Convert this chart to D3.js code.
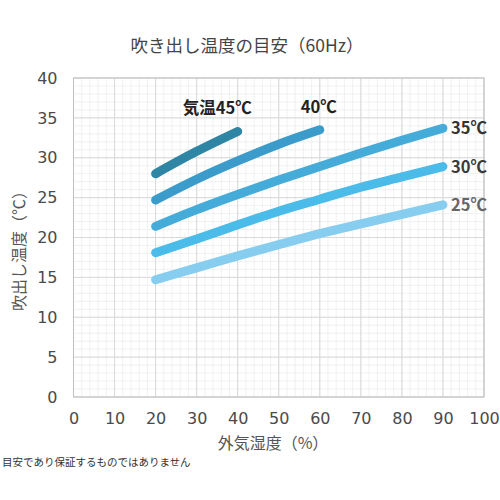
<!DOCTYPE html>
<html><head><meta charset="utf-8">
<script src="https://cdn.jsdelivr.net/npm/d3@7"></script>
<style>body{margin:0;background:#fff;}text{font-family:"Noto Sans CJK JP","Noto Sans",sans-serif;}</style>
</head><body>
<svg id="c" width="500" height="500"></svg>
<script>
const humidity = [20, 30, 40, 50, 60, 70, 80, 90];
const seriesNames = ["気温45℃", "40℃", "35℃", "30℃", "25℃"];
const t45 = [28.0, 30.8, 33.3];
const t40 = [24.7, 27.3, 29.6, 31.7, 33.5];
const t35 = [21.4, 23.5, 25.4, 27.2, 28.9, 30.6, 32.2, 33.7];
const t30 = [18.1, 19.8, 21.6, 23.3, 24.8, 26.3, 27.6, 28.9];
const t25 = [14.7, 16.2, 17.7, 19.1, 20.5, 21.7, 22.9, 24.1];
const xTicks = [0,10,20,30,40,50,60,70,80,90,100];
const yTicks = [0,5,10,15,20,25,30,35,40];

const svg = d3.select("#c");
const x = d3.scaleLinear().domain([0,100]).range([73.5,484]);
const y = d3.scaleLinear().domain([0,40]).range([397,78]);

// minor grid
const g = svg.append("g");
g.selectAll(".mx").data(d3.range(0,101,2)).join("line")
  .attr("x1",d=>x(d)).attr("x2",d=>x(d)).attr("y1",y(0)).attr("y2",y(40))
  .attr("stroke","#eeeeee").attr("stroke-width",0.8);
g.selectAll(".my").data(d3.range(0,41,1)).join("line")
  .attr("y1",d=>y(d)).attr("y2",d=>y(d)).attr("x1",x(0)).attr("x2",x(100))
  .attr("stroke","#eeeeee").attr("stroke-width",0.8);
// major grid
g.selectAll(".Mx").data(xTicks).join("line")
  .attr("x1",d=>x(d)).attr("x2",d=>x(d)).attr("y1",y(0)).attr("y2",y(40))
  .attr("stroke","#d9d9d9").attr("stroke-width",1);
g.selectAll(".My").data(yTicks).join("line")
  .attr("y1",d=>y(d)).attr("y2",d=>y(d)).attr("x1",x(0)).attr("x2",x(100))
  .attr("stroke","#d9d9d9").attr("stroke-width",1);
svg.append("rect").attr("x",x(0)).attr("y",y(40)).attr("width",x(100)-x(0)).attr("height",y(0)-y(40))
  .attr("fill","none").attr("stroke","#bfbfbf").attr("stroke-width",1);

// axes
const yAxis = d3.axisLeft(y).tickValues(yTicks).tickSize(0).tickPadding(16);
const ya = svg.append("g").attr("transform",`translate(${x(0)},0)`).call(yAxis);
const xAxis = d3.axisBottom(x).tickValues(xTicks).tickSize(0).tickPadding(16);
const xa = svg.append("g").attr("transform",`translate(0,${y(0)})`).call(xAxis);
[ya,xa].forEach(a=>{a.select(".domain").remove();
  a.selectAll("text").attr("font-size",16).attr("fill","#4a4a4a").style("font-family","'DejaVu Sans',sans-serif");});

// series
const series = [
  {name:seriesNames[0], vals:t45, color:"#2f86a4"},
  {name:seriesNames[1], vals:t40, color:"#3b9ccb"},
  {name:seriesNames[2], vals:t35, color:"#45acd9"},
  {name:seriesNames[3], vals:t30, color:"#4bbbea"},
  {name:seriesNames[4], vals:t25, color:"#86cdef"}
];
const line = d3.line().curve(d3.curveMonotoneX).x(d=>x(d[0])).y(d=>y(d[1]));
svg.selectAll(".s").data(series.slice().reverse()).join("path")
  .attr("d",s=>line(s.vals.map((v,i)=>[humidity[i],v])))
  .attr("fill","none").attr("stroke",s=>s.color).attr("stroke-width",9).attr("stroke-linecap","round");

// labels
function lastPt(s){const n=s.vals.length-1;return [humidity[n], s.vals[n]];}
[[0,-55,-17],[1,-19,-17]].forEach(([i,dx,dy])=>{
  const p=lastPt(series[i]);
  svg.append("text").attr("x",x(p[0])+dx).attr("y",y(p[1])+dy)
    .attr("font-size",16.5).attr("font-weight","bold").attr("fill","#222").text(series[i].name);
});
[[2,"#333"],[3,"#3a3a3a"],[4,"#666"]].forEach(([i,c])=>{
  const p=lastPt(series[i]);
  svg.append("text").attr("x",x(p[0])+8).attr("y",y(p[1])+6)
    .attr("font-size",16.5).attr("font-weight","bold").attr("fill",c).text(series[i].name);
});

// titles
svg.append("text").attr("x",247).attr("y",52).attr("text-anchor","middle")
  .attr("font-size",17.5).attr("fill","#444").text("吹き出し温度の目安（60Hz）");
svg.append("text").attr("x",273).attr("y",449).attr("text-anchor","middle")
  .attr("font-size",16).attr("fill","#555").text("外気湿度（%）");
svg.append("text").attr("transform","translate(25,247) rotate(-90)").attr("text-anchor","middle")
  .attr("font-size",16).attr("fill","#555").text("吹出し温度（℃）");
svg.append("text").attr("x",2).attr("y",466).attr("font-size",10.5).attr("fill","#333")
  .text("目安であり保証するものではありません");
</script>
</body></html>
